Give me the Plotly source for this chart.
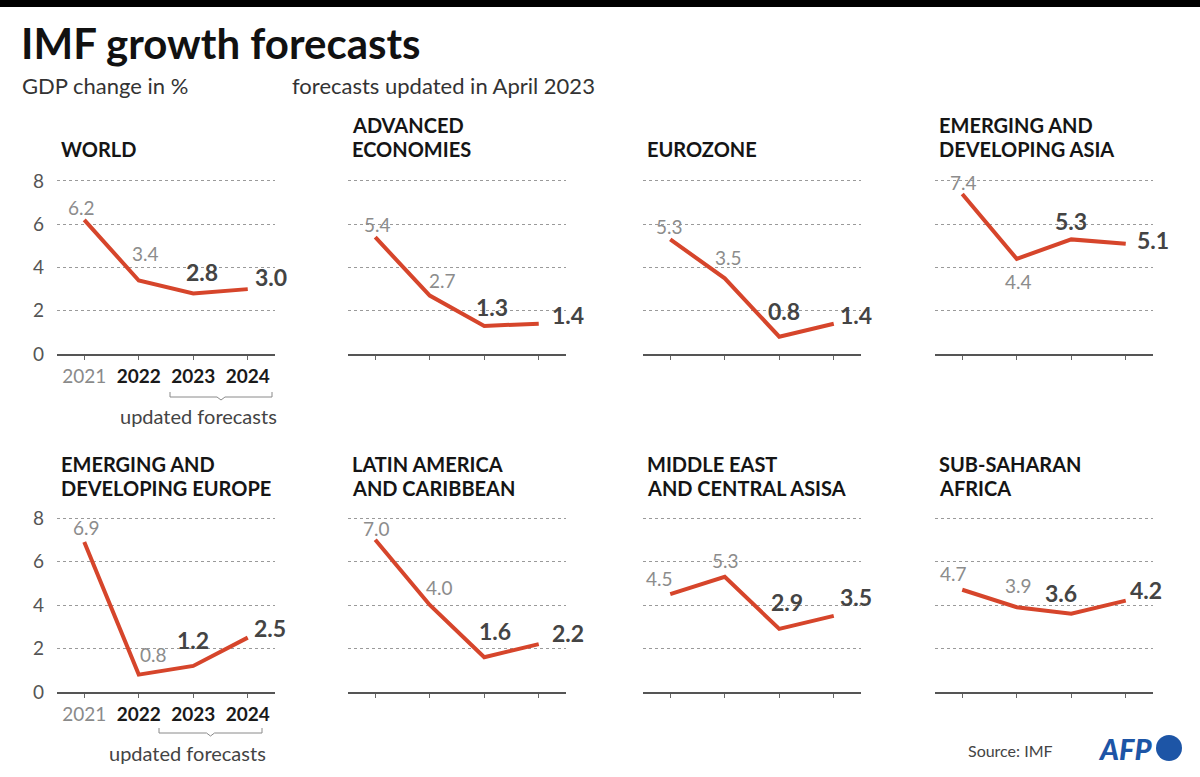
import plotly.graph_objects as go

# ---------------- data ----------------
years = ["2021", "2022", "2023", "2024"]
panel_titles = [
    ["WORLD"],
    ["ADVANCED", "ECONOMIES"],
    ["EUROZONE"],
    ["EMERGING AND", "DEVELOPING ASIA"],
    ["EMERGING AND", "DEVELOPING EUROPE"],
    ["LATIN AMERICA", "AND CARIBBEAN"],
    ["MIDDLE EAST", "AND CENTRAL ASISA"],
    ["SUB-SAHARAN", "AFRICA"],
]
world = [6.2, 3.4, 2.8, 3.0]
advanced = [5.4, 2.7, 1.3, 1.4]
eurozone = [5.3, 3.5, 0.8, 1.4]
dev_asia = [7.4, 4.4, 5.3, 5.1]
dev_europe = [6.9, 0.8, 1.2, 2.5]
latam = [7.0, 4.0, 1.6, 2.2]
mideast = [4.5, 5.3, 2.9, 3.5]
ssafrica = [4.7, 3.9, 3.6, 4.2]
series = [world, advanced, eurozone, dev_asia, dev_europe, latam, mideast, ssafrica]
y_ticks = [0, 2, 4, 6, 8]

# ---------------- styling / layout helpers ----------------
W, H = 1200, 777
RED = "#d6452b"
FONT = "Lato"
YMAX = 8.05

def px_x(x):
    return x / W

def px_y(y):
    return 1 - y / H

col_left = [57, 348, 643, 935]
panel_w = 218
rows = [(354, 181), (692, 518)]  # (y of 0, y of 8) in px

# label offsets (xshift, yshift, anchor) per panel, per point
label_pos = [
    [(-3, 12, "center"), (7, 27, "center"), (9, 21, "center"), (5, 12, "left")],
    [(2, 13, "center"), (13, 15, "center"), (8, 19, "center"), (11, 9, "left")],
    [(-1, 13, "center"), (4, 21, "center"), (5, 26, "center"), (4, 9, "left")],
    [(1, 11, "center"), (2, -23, "center"), (0, 18, "center"), (9, 4, "left")],
    [(2, 14, "center"), (15, 20, "center"), (0, 26, "center"), (4, 10, "left")],
    [(1, 11, "center"), (10, 18, "center"), (11, 26, "center"), (11, 11, "left")],
    [(-11, 16, "center"), (1, 16, "center"), (8, 27, "center"), (4, 19, "left")],
    [(-9, 16, "center"), (2, 22, "center"), (-10, 21, "center"), (2, 11, "left")],
]

fig = go.Figure()
annotations = []
shapes = []
layout_axes = {}

year_ticktext = [
    "<span style='color:#8a8a8a'>2021</span>",
    "<b>2022</b>", "<b>2023</b>", "<b>2024</b>",
]

for i, vals in enumerate(series):
    r, c = divmod(i, 4)
    n = i + 1
    xa = "x" if n == 1 else f"x{n}"
    ya = "y" if n == 1 else f"y{n}"
    xkey = "xaxis" if n == 1 else f"xaxis{n}"
    ykey = "yaxis" if n == 1 else f"yaxis{n}"
    y0, y8 = rows[r]
    ytop = y0 - (y0 - y8) * YMAX / 8
    left = col_left[c]
    first_col = c == 0

    fig.add_trace(go.Scatter(
        x=years, y=vals, mode="lines", xaxis=xa, yaxis=ya,
        line=dict(color=RED, width=4), showlegend=False, hoverinfo="x+y",
    ))

    layout_axes[xkey] = dict(
        domain=[px_x(left), px_x(left + panel_w)],
        anchor=ya, type="category", range=[-0.5, 3.5],
        showgrid=False, zeroline=False, automargin=False,
        showline=True, linecolor="#555555", linewidth=1.5,
        ticks="outside", ticklen=4, tickcolor="#666666", tickwidth=1,
        tickvals=years, ticktext=year_ticktext if first_col else [""] * 4,
        showticklabels=first_col,
        tickfont=dict(family=FONT, size=19, color="#1a1a1a"),
        fixedrange=True,
    )
    layout_axes[ykey] = dict(
        domain=[px_y(y0), px_y(ytop)],
        anchor=xa, range=[0, YMAX], tickvals=y_ticks, automargin=False,
        showgrid=True, gridcolor="#9a9a9a", gridwidth=1, griddash="dot",
        zeroline=False, showline=False, ticks="",
        showticklabels=first_col,
        tickfont=dict(family=FONT, size=19, color="#555555"),
        ticklabelstandoff=12,
        fixedrange=True,
    )

    # data labels (x given as category index on the category axis)
    for j, v in enumerate(vals):
        dx, dy, anc = label_pos[i][j]
        bold = j >= 2
        annotations.append(dict(
            x=j, y=v, xref=xa, yref=ya, showarrow=False,
            text=(f"<b>{v:.1f}</b>" if bold else f"{v:.1f}"),
            font=dict(family=FONT, size=23 if bold else 19,
                      color="#444444" if bold else "#8c8c8c"),
            xanchor=anc, yanchor="middle", xshift=dx, yshift=dy,
        ))

    # panel title
    lines = panel_titles[i]
    base = 149 if r == 0 else 488
    for k, line in enumerate(reversed(lines)):
        annotations.append(dict(
            x=px_x(left + 2), y=px_y(base - 24.5 * k), xref="paper", yref="paper",
            text=f"<b>{line}</b>", showarrow=False, xanchor="left", yanchor="middle",
            font=dict(family=FONT, size=20, color="#151515"),
        ))

# "updated forecasts" bracket under first column of each row
for (bl, br, btop, label_x, label_y) in [(170, 272, 392, 198, 416), (159, 262, 728, 187, 753)]:
    mid = (bl + br) / 2
    bb = btop + 5
    path = (f"M {px_x(bl)} {px_y(btop)} L {px_x(bl)} {px_y(bb)} "
            f"L {px_x(mid - 4)} {px_y(bb)} L {px_x(mid)} {px_y(bb + 3)} "
            f"L {px_x(mid + 4)} {px_y(bb)} L {px_x(br)} {px_y(bb)} L {px_x(br)} {px_y(btop)}")
    shapes.append(dict(type="path", path=path, xref="paper", yref="paper",
                       line=dict(color="#8a8a8a", width=1)))
    annotations.append(dict(
        x=px_x(label_x), y=px_y(label_y), xref="paper", yref="paper", showarrow=False,
        text="updated forecasts", xanchor="center", yanchor="middle",
        font=dict(family=FONT, size=20, color="#444444"),
    ))

# top black bar
shapes.append(dict(type="rect", xref="paper", yref="paper",
                   x0=0, x1=1, y0=px_y(7), y1=1,
                   fillcolor="#000000", line=dict(width=0)))

# titles
annotations += [
    dict(x=px_x(19), y=px_y(43), xref="paper", yref="paper", showarrow=False,
         text="<b>IMF growth forecasts</b>", xanchor="left", yanchor="middle",
         font=dict(family=FONT, size=42, color="#111111")),
    dict(x=px_x(20), y=px_y(86), xref="paper", yref="paper", showarrow=False,
         text="GDP change in %", xanchor="left", yanchor="middle",
         font=dict(family=FONT, size=22, color="#333333")),
    dict(x=px_x(290), y=px_y(86), xref="paper", yref="paper", showarrow=False,
         text="forecasts updated in April 2023", xanchor="left", yanchor="middle",
         font=dict(family=FONT, size=22, color="#333333")),
    dict(x=px_x(1055), y=px_y(750), xref="paper", yref="paper", showarrow=False,
         text="Source: IMF", xanchor="right", yanchor="middle",
         font=dict(family=FONT, size=16, color="#444444")),
    dict(x=px_x(1154), y=px_y(748), xref="paper", yref="paper", showarrow=False,
         text="<i>AFP</i>", xanchor="right", yanchor="middle",
         font=dict(family=FONT, size=29, color="#1d55a6", weight=900)),
]
shapes.append(dict(type="circle", xref="paper", yref="paper",
                   x0=px_x(1156), x1=px_x(1182), y0=px_y(761), y1=px_y(735),
                   fillcolor="#1d55a6", line=dict(width=0)))

fig.update_layout(
    width=W, height=H, margin=dict(l=0, r=0, t=0, b=0, autoexpand=False),
    paper_bgcolor="white", plot_bgcolor="white",
    annotations=annotations, shapes=shapes, showlegend=False,
    font=dict(family=FONT),
    **layout_axes,
)

fig.write_html("out.html", config={"displayModeBar": False})
